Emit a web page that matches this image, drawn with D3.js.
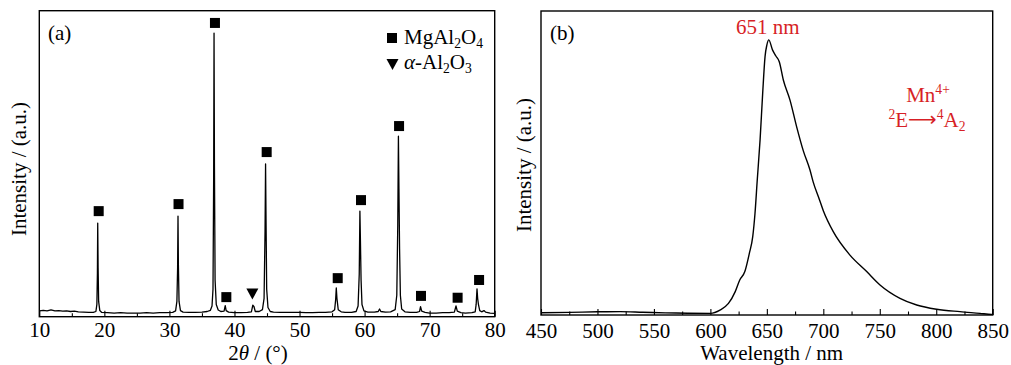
<!DOCTYPE html>
<html>
<head>
<meta charset="utf-8">
<script src="https://cdn.jsdelivr.net/npm/d3@7"></script>
<style>
  html, body { margin: 0; padding: 0; background: #fff; }
  svg text { font-family: "Liberation Serif", "Times New Roman", serif; }
</style>
</head>
<body>
<svg id="chart" width="1011" height="365"></svg>
<script>
// ---------------- DATA ----------------
// (a) XRD pattern: [2theta (deg), intensity (a.u.)]
const xrdPattern = [
  [10,1.9],[10.6,2.1],[11.2,1.9],[11.8,2.2],[12.4,1.9],[13.0,2.0],[13.6,1.8],[14.2,1.9],[14.8,1.7],[15.4,1.8],[16,1.6],[16.8,1.5],[17.6,1.4],[18.3,1.4],
  [18.7,1.7],[18.85,4],[18.93,14],[18.98,30.6],[19.04,16],[19.12,5],[19.3,2.0],[19.6,1.4],[20.5,1.3],[21.5,1.2],[22.5,1.3],[23.5,1.2],[24.5,1.2],[25.5,1.2],[26.5,1.3],[27.5,1.2],[28.5,1.3],[29.5,1.3],[30.5,1.4],
  [30.95,1.9],[31.15,5],[31.26,16],[31.32,32.9],[31.38,17],[31.48,5],[31.7,2.0],[32.1,1.5],[33,1.4],[34,1.4],[35,1.5],[35.8,1.7],[36.3,2.1],[36.55,3.5],[36.7,9],[36.8,45],[36.86,92.7],[36.92,50],[37.02,12],[37.2,4],[37.5,2.2],[37.9,1.7],
  [38.4,1.8],[38.58,3.6],[38.72,2.0],[39.1,1.5],[40,1.3],[41,1.3],[42,1.4],[42.6,1.6],[42.82,3.8],[42.98,3.4],[43.2,1.7],[43.8,1.7],
  [44.3,2.3],[44.55,6],[44.7,28],[44.78,49.9],[44.85,32],[44.95,9],[45.15,3],[45.5,1.7],[46,1.5],[47,1.4],[48,1.4],[49,1.4],[50,1.4],[51,1.3],[52,1.3],[53,1.4],[54,1.4],[55,1.6],
  [55.4,2.3],[55.55,5.5],[55.65,9.4],[55.75,6],[55.95,2.3],[56.4,1.6],[57,1.4],[58,1.4],[58.7,1.7],[59.0,3.5],[59.18,14],[59.28,34.5],[59.36,25],[59.46,12],[59.6,4],[59.9,1.9],[60.5,1.5],[61.5,1.5],
  [62.1,1.7],[62.3,2.5],[62.5,1.7],[63.2,1.5],[64,1.6],[64.7,2.3],[64.95,7],[65.1,30],[65.2,59.0],[65.28,42],[65.38,22],[65.5,7],[65.7,2.5],[66.2,1.6],[67,1.4],[68,1.4],
  [68.45,1.7],[68.6,3.3],[68.78,1.8],[69.3,1.4],[70,1.2],[71,1.2],[72,1.3],[73,1.3],[73.8,1.5],[74.05,3.5],[74.25,1.8],[74.8,1.3],[75.5,1.2],[76.5,1.3],
  [77.0,1.6],[77.15,4],[77.28,9.1],[77.38,6],[77.5,4],[77.7,2.0],[78.0,1.6],[78.35,2.0],[78.6,1.5],[79.3,1.2],[80,1.1]
];
// phase markers: [2theta, level]
const spinelMarkers = [[19.13,34.5],[31.4,36.8],[37.0,96.0],[38.75,6.4],[44.95,53.8],[55.87,12.6],[59.45,38.1],[65.3,62.3],[68.67,6.8],[74.3,6.2],[77.6,12.0]];
const aluminaMarkers = [[42.75,7.4]];
const xrdMajorTicks = [10,20,30,40,50,60,70,80];
const xrdMinorTicks = [15,25,35,45,55,65,75];

// (b) PL emission spectrum
const plWavelength = [450,475,500,520,540,560,580,600,608.5,616,622,626,630.5,634.5,637.5,639.5,641.5,644,646.3,648.4,650,651.7,655,658,661,664.6,670.5,676.4,682.3,688.2,691,696.5,700,708.8,723.6,738.4,750.2,767.9,782.7,800.4,821,838.7,849,850];
const plIntensity  = [0.75,0.85,1.05,1.1,0.9,0.7,0.6,0.55,1.6,3.8,7.7,11.5,14.3,20.3,25.8,33.4,44.4,57.6,72.9,85,88.8,90.5,87.2,85.2,83.3,77.3,70.7,61.9,54,47.7,43.8,38,34.3,27.4,19.7,14.3,9.9,5.5,3.3,1.9,1.1,0.55,0.2,0.2];
const plMajorTicks = [450,500,550,600,650,700,750,800,850];
const plMinorTicks = [475,525,575,625,675,725,775,825];

// ---------------- DRAW ----------------
const svg = d3.select("#chart");
svg.append("rect").attr("width",1011).attr("height",365).attr("fill","#fff");
const RED = "#d71f26";
const FS = 21;

function panel(opts){
  const g = svg.append("g");
  const x = d3.scaleLinear().domain(opts.xDomain).range([opts.left, opts.right]);
  const y = d3.scaleLinear().domain([0,100]).range([opts.bottom, opts.top]);
  g.append("g").attr("transform",`translate(0,${opts.bottom})`)
    .call(d3.axisBottom(x).tickValues(opts.minor).tickSizeInner(-3.5).tickSizeOuter(0).tickFormat(""))
    .call(a => a.select(".domain").remove())
    .call(a => a.selectAll("line").attr("stroke","#000").attr("stroke-width",1.1));
  g.append("g").attr("transform",`translate(0,${opts.bottom})`)
    .call(d3.axisBottom(x).tickValues(opts.major).tickSizeInner(-6).tickSizeOuter(0).tickPadding(opts.pad).tickFormat(d3.format("d")))
    .call(a => a.select(".domain").remove())
    .call(a => a.selectAll("line").attr("stroke","#000").attr("stroke-width",1.1))
    .call(a => a.selectAll("text").attr("fill","#000").attr("font-size",FS).attr("font-family","Liberation Serif, serif"));
  g.append("rect").attr("x",opts.left).attr("y",opts.top)
    .attr("width",opts.right-opts.left).attr("height",opts.bottom-opts.top)
    .attr("fill","none").attr("stroke","#000").attr("stroke-width",1.4);
  return {g,x,y};
}

// ----- Panel (a)
const A = panel({xDomain:[10,80], left:39.3, right:494.7, top:10.7, bottom:316.7, major:xrdMajorTicks, minor:xrdMinorTicks, pad:5});
A.g.append("path").datum(xrdPattern)
  .attr("d", d3.line().x(d=>A.x(d[0])).y(d=>A.y(d[1])))
  .attr("fill","none").attr("stroke","#000").attr("stroke-width",1.3).attr("stroke-linejoin","round");
A.g.selectAll("rect.sq").data(spinelMarkers).join("rect").attr("class","sq")
  .attr("x",d=>A.x(d[0])-5).attr("y",d=>A.y(d[1])-5).attr("width",10).attr("height",10).attr("fill","#000");
A.g.selectAll("path.tri").data(aluminaMarkers).join("path").attr("class","tri")
  .attr("d",d=>{const cx=A.x(d[0]), cy=A.y(d[1]); return `M${cx-6},${cy-5.5}L${cx+6},${cy-5.5}L${cx},${cy+5.5}Z`;})
  .attr("fill","#000");
A.g.append("text").attr("x",48).attr("y",40).attr("font-size",FS).text("(a)");
// legend
A.g.append("rect").attr("x",387).attr("y",33).attr("width",10).attr("height",10).attr("fill","#000");
const l1 = A.g.append("text").attr("x",404).attr("y",44).attr("font-size",FS);
l1.append("tspan").text("MgAl");
l1.append("tspan").attr("font-size",FS*0.65).attr("dy",4).text("2");
l1.append("tspan").attr("dy",-4).text("O");
l1.append("tspan").attr("font-size",FS*0.65).attr("dy",4).text("4");
A.g.append("path").attr("d","M386.5,59L398.5,59L392.5,70Z").attr("fill","#000");
const l2 = A.g.append("text").attr("x",404).attr("y",69).attr("font-size",FS);
l2.append("tspan").attr("font-style","italic").text("α");
l2.append("tspan").text("-Al");
l2.append("tspan").attr("font-size",FS*0.65).attr("dy",4).text("2");
l2.append("tspan").attr("dy",-4).text("O");
l2.append("tspan").attr("font-size",FS*0.65).attr("dy",4).text("3");
const xa = svg.append("text").attr("x",258).attr("y",360).attr("text-anchor","middle").attr("font-size",FS);
xa.append("tspan").text("2");
xa.append("tspan").attr("font-style","italic").text("θ");
xa.append("tspan").text(" / (°)");
svg.append("text").attr("transform","translate(26,169) rotate(-90)").attr("text-anchor","middle").attr("font-size",FS).text("Intensity / (a.u.)");

// ----- Panel (b)
const B = panel({xDomain:[450,850], left:541, right:992.7, top:11, bottom:315, major:plMajorTicks, minor:plMinorTicks, pad:8});
const plData = plWavelength.map((w,i)=>[w,plIntensity[i]]);
B.g.append("path").datum(plData)
  .attr("d", d3.line().x(d=>B.x(d[0])).y(d=>B.y(d[1])).curve(d3.curveMonotoneX))
  .attr("fill","none").attr("stroke","#000").attr("stroke-width",1.4).attr("stroke-linejoin","round");
B.g.append("text").attr("x",550).attr("y",40).attr("font-size",FS).text("(b)");
B.g.append("text").attr("x",767.7).attr("y",34).attr("text-anchor","middle").attr("font-size",FS).attr("fill",RED).text("651 nm");
const m1 = B.g.append("text").attr("x",928).attr("y",102).attr("text-anchor","middle").attr("font-size",FS).attr("fill",RED);
m1.append("tspan").text("Mn");
m1.append("tspan").attr("font-size",FS*0.65).attr("dy",-8).text("4+");
const m2 = B.g.append("text").attr("x",927).attr("y",127).attr("text-anchor","middle").attr("font-size",FS).attr("fill",RED);
m2.append("tspan").attr("font-size",FS*0.65).attr("dy",-8).text("2");
m2.append("tspan").attr("dy",8).text("E");
m2.append("tspan").attr("font-family","DejaVu Sans").attr("font-size",FS*0.95).attr("dy",-1).text("⟶");
m2.append("tspan").attr("font-size",FS*0.65).attr("dy",-7).text("4");
m2.append("tspan").attr("dy",8).text("A");
m2.append("tspan").attr("font-size",FS*0.65).attr("dy",4).text("2");
svg.append("text").attr("x",771.7).attr("y",360).attr("text-anchor","middle").attr("font-size",FS).text("Wavelength / nm");
svg.append("text").attr("transform","translate(531,165) rotate(-90)").attr("text-anchor","middle").attr("font-size",FS).text("Intensity / (a.u.)");
</script>
</body>
</html>
